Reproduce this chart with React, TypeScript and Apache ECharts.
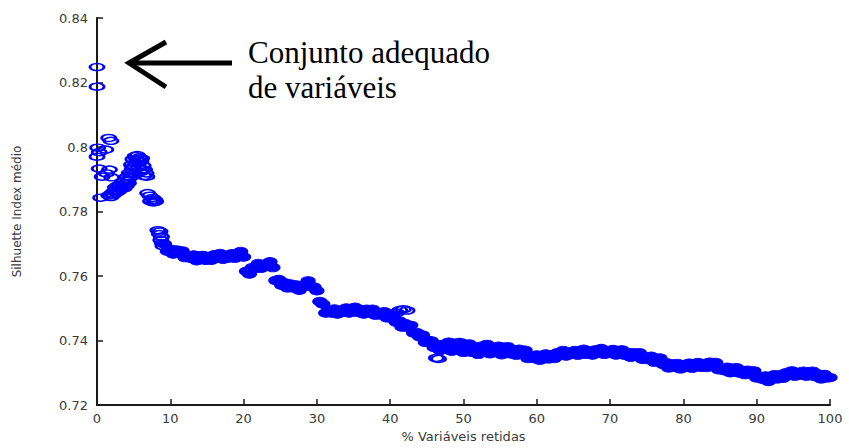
import React, { useEffect, useRef } from "react";
import * as echarts from "echarts";

// First iterations of the variable-elimination run: [% variables retained, mean silhouette]
const earlyPoints: [number, number][] = [
  [0.0, 0.8248], [0.0, 0.8187],
  [1.6, 0.8028], [1.9, 0.8019],
  [0.1, 0.7998], [0.3, 0.7984], [0.0, 0.797], [1.2, 0.7992],
  [0.3, 0.7933], [1.7, 0.793], [0.7, 0.7908], [2.0, 0.7906], [1.3, 0.7918],
  [0.5, 0.7843],
  [1.6, 0.785], [2.0, 0.7856], [2.3, 0.7862], [2.7, 0.7866], [3.0, 0.7872], [3.3, 0.787],
  [3.6, 0.788], [3.9, 0.7886], [4.2, 0.7895], [2.5, 0.7875], [3.1, 0.7883],
  [1.9, 0.7845], [2.2, 0.7851], [2.6, 0.7858], [2.9, 0.7862], [3.4, 0.7876], [3.7, 0.7872],
  [4.0, 0.788], [4.3, 0.7888], [3.5, 0.789], [4.1, 0.7908], [2.8, 0.788],
  [4.4, 0.792], [4.7, 0.7945], [4.9, 0.7962], [5.2, 0.7972], [5.5, 0.7975], [5.8, 0.7968],
  [6.0, 0.7955], [5.3, 0.795], [4.8, 0.7932], [6.3, 0.7942], [6.5, 0.793], [6.7, 0.7918],
  [6.8, 0.7908], [5.6, 0.7938], [4.5, 0.7905],
  [5.0, 0.794], [5.4, 0.7962], [5.7, 0.7955], [6.1, 0.7965], [6.2, 0.7928], [5.9, 0.7922],
  [4.6, 0.7915], [6.4, 0.791], [5.1, 0.7918],
  [6.9, 0.7857], [7.2, 0.7849], [7.6, 0.7842], [7.9, 0.7836], [7.3, 0.7832], [7.7, 0.7828], [8.0, 0.7831],
  [8.3, 0.7742], [8.6, 0.7738], [8.5, 0.773], [8.8, 0.7722], [8.7, 0.7712], [8.9, 0.7702], [9.0, 0.7693],
];

// Remaining iterations, one value every 0.4 % of retained variables from 9.2 % to 100 %
const bandStartPct = 9.2;
const bandStepPct = 0.4;
const bandSilhouette: number[] = [
  0.7699, 0.7677, 0.7683, 0.7668, 0.7681, 0.767, 0.7678, 0.7657, 0.7663, 0.7655,
  0.7665, 0.7647, 0.7659, 0.7664, 0.7649, 0.766, 0.7649, 0.7666, 0.7658, 0.767,
  0.7652, 0.7661, 0.7656, 0.7669, 0.7655, 0.767, 0.7676, 0.7659, 0.7615, 0.7606,
  0.7626, 0.7623, 0.7639, 0.7624, 0.7636, 0.7632, 0.7644, 0.7626, 0.7586, 0.7589,
  0.7571, 0.7579, 0.7563, 0.7575, 0.7563, 0.7572, 0.7556, 0.7571, 0.7571, 0.7585,
  0.7567, 0.7566, 0.7554, 0.7521, 0.7513, 0.7485, 0.7494, 0.7485, 0.7498, 0.7482,
  0.7493, 0.7488, 0.7501, 0.7485, 0.7499, 0.7503, 0.7487, 0.7496, 0.7482, 0.7497,
  0.7487, 0.7497, 0.7478, 0.7486, 0.7479, 0.7489, 0.747, 0.7479, 0.7479, 0.7457,
  0.7461, 0.7442, 0.7453, 0.744, 0.7447, 0.7423, 0.7425, 0.7412, 0.7417, 0.7394,
  0.74, 0.7399, 0.7378, 0.7384, 0.7369, 0.7388, 0.7375, 0.7395, 0.7367, 0.7382,
  0.7371, 0.7389, 0.7363, 0.7382, 0.7389, 0.7363, 0.7379, 0.7357, 0.7382, 0.7369,
  0.7388, 0.7359, 0.7374, 0.7363, 0.7382, 0.7356, 0.7376, 0.7381, 0.7359, 0.7372,
  0.7354, 0.7373, 0.7359, 0.737, 0.7344, 0.7352, 0.7344, 0.7355, 0.7339, 0.7352,
  0.7358, 0.7343, 0.7355, 0.7344, 0.7362, 0.7356, 0.7369, 0.7352, 0.7362, 0.7357,
  0.7369, 0.7354, 0.7367, 0.7373, 0.7357, 0.7367, 0.7355, 0.7371, 0.7363, 0.7375,
  0.7357, 0.7367, 0.7361, 0.7372, 0.7355, 0.7367, 0.7371, 0.7354, 0.7363, 0.7348,
  0.7362, 0.7352, 0.7362, 0.7342, 0.7349, 0.7341, 0.7351, 0.7333, 0.7344, 0.7346,
  0.7326, 0.7332, 0.7315, 0.7328, 0.7318, 0.7329, 0.7312, 0.7323, 0.7318, 0.733,
  0.7314, 0.7327, 0.7332, 0.7317, 0.7328, 0.7316, 0.7333, 0.7324, 0.7332, 0.7309,
  0.7314, 0.7306, 0.7317, 0.73, 0.7312, 0.7316, 0.7299, 0.7308, 0.7294, 0.7308,
  0.7297, 0.7306, 0.7284, 0.7289, 0.728, 0.729, 0.7273, 0.7287, 0.7294, 0.7281,
  0.7294, 0.7283, 0.73, 0.7293, 0.7306, 0.7289, 0.7299, 0.7293, 0.7305, 0.7289,
  0.7301, 0.7305, 0.7288, 0.7296, 0.7281, 0.7295, 0.7284, 0.7285,
];

// Isolated iterations that sit off the main trail
const strayPoints: [number, number][] = [
  [40.9, 0.7486], [41.3, 0.7494], [41.8, 0.7497], [42.3, 0.7493],
  [46.3, 0.7346], [46.6, 0.7343],
  [49.0, 0.7393], [49.5, 0.7395],
];

const xRange = { min: 0, max: 100, step: 10 };
const yRange = { min: 0.72, max: 0.84, step: 0.02 };

const xAxisTitle = "% Variáveis retidas";
const yAxisTitle = "Silhuette Index médio";
const noteLines = ["Conjunto adequado", "de variáveis"];

const MARKER_BLUE = "#0000ff";
const AXIS_INK = "#1a1a1a";
const LABEL_INK = "#3a3a3a";

export default function App() {
  const ref = useRef<HTMLDivElement>(null);

  useEffect(() => {
    if (!ref.current) return;
    const chart = echarts.init(ref.current, undefined, { renderer: "svg" });

    const bandPoints = bandSilhouette.map((v, i) => [
      Number((bandStartPct + i * bandStepPct).toFixed(1)),
      v,
    ]);

    const axisFont = {
      color: LABEL_INK,
      fontFamily: "DejaVu Sans",
      fontSize: 13,
    };

    chart.setOption({
      animation: false,
      backgroundColor: "#ffffff",
      grid: { left: 97, right: 19, top: 18, bottom: 40 },
      xAxis: {
        type: "value",
        min: xRange.min,
        max: xRange.max,
        interval: xRange.step,
        name: xAxisTitle,
        nameLocation: "middle",
        nameGap: 25,
        nameTextStyle: { ...axisFont, fontSize: 13 },
        axisLine: { show: true, onZero: false, lineStyle: { color: AXIS_INK, width: 2 } },
        axisTick: { show: true, inside: true, length: 6, lineStyle: { color: AXIS_INK, width: 1.5 } },
        axisLabel: { ...axisFont, margin: 7 },
        splitLine: { show: false },
      },
      yAxis: {
        type: "value",
        min: yRange.min,
        max: yRange.max,
        interval: yRange.step,
        name: yAxisTitle,
        nameLocation: "middle",
        nameGap: 74,
        nameTextStyle: { ...axisFont, fontSize: 12 },
        axisLine: { show: true, onZero: false, lineStyle: { color: AXIS_INK, width: 2 } },
        axisTick: { show: true, inside: true, length: 6, lineStyle: { color: AXIS_INK, width: 1.5 } },
        axisLabel: { ...axisFont, margin: 9 },
        splitLine: { show: false },
      },
      series: [
        {
          // later iterations: rings packed so tightly they merge into a solid trail
          type: "scatter",
          data: bandPoints,
          symbol: "circle",
          symbolSize: [14, 8.5],
          itemStyle: { color: MARKER_BLUE, borderColor: MARKER_BLUE, borderWidth: 1, opacity: 1 },
          emphasis: { disabled: true },
          clip: false,
        },
        {
          // sparse early iterations and stragglers: open rings
          type: "scatter",
          data: [...earlyPoints, ...strayPoints],
          symbol: "circle",
          symbolSize: [14, 7],
          itemStyle: {
            color: "rgba(0,0,0,0)",
            borderColor: MARKER_BLUE,
            borderWidth: 2,
            opacity: 1,
          },
          emphasis: { disabled: true },
          clip: false,
        },
      ],
      graphic: [
        {
          type: "line",
          shape: { x1: 129, y1: 63, x2: 232, y2: 63 },
          style: { stroke: "#000", lineWidth: 5 },
        },
        {
          type: "polyline",
          shape: { points: [[166, 42], [129, 63], [166, 87]] },
          style: { stroke: "#000", lineWidth: 5, fill: null, lineJoin: "miter" },
        },
        {
          type: "text",
          style: {
            text: noteLines[0],
            x: 248,
            y: 52,
            fill: "#000",
            fontFamily: "Liberation Serif",
            fontSize: 31,
            verticalAlign: "middle",
          },
        },
        {
          type: "text",
          style: {
            text: noteLines[1],
            x: 248,
            y: 87,
            fill: "#000",
            fontFamily: "Liberation Serif",
            fontSize: 31,
            verticalAlign: "middle",
          },
        },
      ],
    });

    return () => chart.dispose();
  }, []);

  return (
    <div
      ref={ref}
      style={{ position: "fixed", left: 0, top: 0, width: 849, height: 448, background: "#fff" }}
    />
  );
}
